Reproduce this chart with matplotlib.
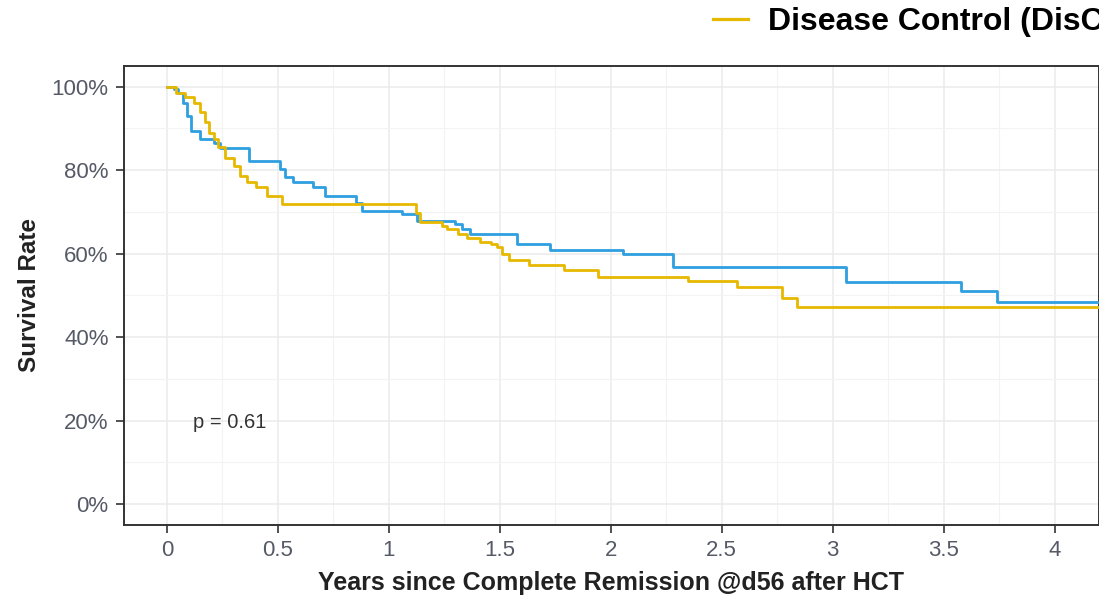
import matplotlib
matplotlib.use("Agg")
import matplotlib.pyplot as plt
from matplotlib.ticker import MultipleLocator, FuncFormatter
from matplotlib.lines import Line2D

# Curvas de supervivencia (años, % supervivencia)
blue_t = [0, 0.03, 0.05, 0.07, 0.09, 0.11, 0.15, 0.21, 0.24, 0.37, 0.51, 0.53,
          0.57, 0.66, 0.71, 0.85, 0.88, 1.06, 1.125, 1.30, 1.33, 1.365, 1.575,
          1.725, 2.055, 2.28, 3.06, 3.58, 3.74, 4.3]
blue_s = [100, 99.5, 98.5, 96, 93, 89.5, 87.5, 86.5, 85.4, 82.2, 80.2, 78.3,
          77.1, 75.9, 73.9, 72.1, 70.3, 69.5, 67.9, 67.1, 65.9, 64.8, 62.4,
          60.8, 59.8, 56.8, 53.3, 51.0, 48.5, 48.5]

yellow_t = [0, 0.04, 0.08, 0.12, 0.15, 0.17, 0.19, 0.21, 0.23, 0.26, 0.30,
            0.33, 0.36, 0.40, 0.45, 0.52, 1.12, 1.14, 1.24, 1.26, 1.31, 1.35,
            1.41, 1.46, 1.485, 1.51, 1.54, 1.63, 1.79, 1.94, 2.35, 2.57, 2.77,
            2.84, 4.3]
yellow_s = [100, 98.5, 97.5, 96.1, 94, 91.5, 89, 87.5, 85.5, 83, 81, 78.6,
            77.1, 75.9, 73.9, 71.9, 69.7, 67.7, 66.7, 65.9, 64.8, 63.7, 62.8,
            62.4, 61.6, 60.0, 58.4, 57.4, 56.0, 54.4, 53.4, 52.1, 49.3, 47.3,
            47.3]

legend_label = "Disease Control (DisC)"
p_text = "p = 0.61"

YELLOW = "#E7B800"
BLUE = "#2E9FDF"

plt.rcParams['font.family'] = ['Liberation Sans', 'DejaVu Sans']

fig = plt.figure(figsize=(10.99, 6.01), dpi=100)
ax = fig.add_axes([0.1128, 0.1265, 0.8872, 0.764])

ax.step(blue_t, blue_s, where="post", color=BLUE, lw=2.0, zorder=3)
ax.step(yellow_t, yellow_s, where="post", color=YELLOW, lw=2.0, zorder=3)

ax.set_xlim(-0.194, 4.2)
ax.set_ylim(-5, 105)
ax.xaxis.set_major_locator(MultipleLocator(0.5))
ax.xaxis.set_minor_locator(MultipleLocator(0.25))
ax.yaxis.set_major_locator(MultipleLocator(20))
ax.yaxis.set_minor_locator(MultipleLocator(10))
ax.xaxis.set_major_formatter(FuncFormatter(lambda v, p: f"{v:g}"))
ax.yaxis.set_major_formatter(FuncFormatter(lambda v, p: f"{v:.0f}%"))

ax.grid(which="major", color="#EBEBEB", lw=1.1, zorder=0)
ax.grid(which="minor", color="#F3F3F3", lw=0.8, zorder=0)
ax.set_axisbelow(True)
for s in ax.spines.values():
    s.set_color("#333333")
    s.set_linewidth(1.4)
ax.tick_params(which="major", length=6, width=1.2, color="#333333",
               labelsize=16, labelcolor="#555a66", pad=5)
ax.tick_params(which="minor", length=0)

ax.set_xlabel("Years since Complete Remission @d56 after HCT", fontsize=18,
              fontweight="bold", color="#222222", labelpad=7)
ax.set_ylabel("Survival Rate", fontsize=17.5, fontweight="bold",
              color="#222222", labelpad=8)

ax.text(0.117, 19.5, p_text, fontsize=14.5, color="#333333", va="center", ha="left")

# Leyenda superior (recortada por el borde derecho, como en el original)
handle = Line2D([], [], color=YELLOW, lw=2.3)
fig.legend([handle], [legend_label], loc="center left",
           bbox_to_anchor=(0.6488, 0.963), frameon=False,
           prop={"size": 23, "weight": "bold"}, handlelength=1.1,
           handletextpad=0.62, borderaxespad=0, borderpad=0)

fig.savefig("out.png", dpi=100)
